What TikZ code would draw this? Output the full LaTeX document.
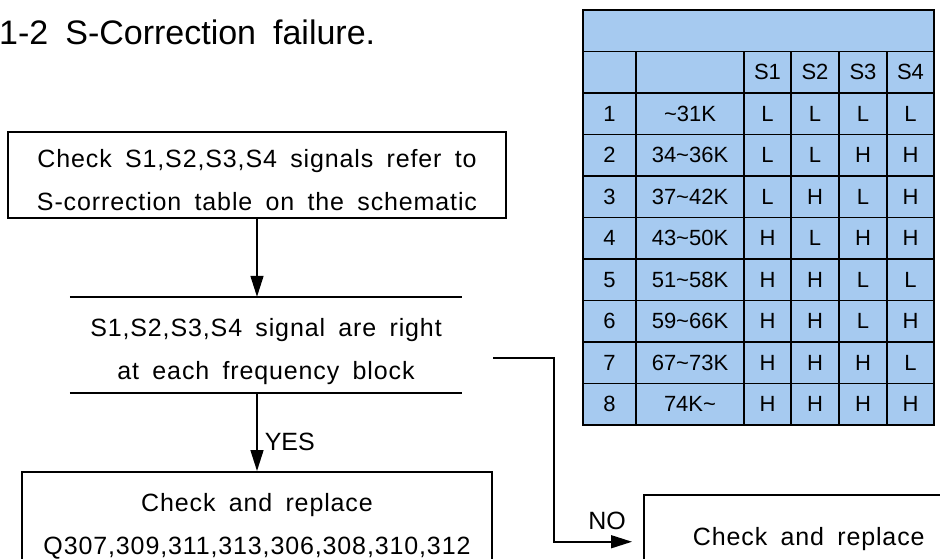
\documentclass[tikz,border=0pt]{standalone}
\usepackage{fontspec}
\setmainfont{Liberation Sans}
\newfontfamily\trackfont[LetterSpace=3.5,WordSpace=1.7]{Liberation Sans}
\newfontfamily\titlefont[WordSpace=1.8]{Liberation Sans}
\usetikzlibrary{arrows.meta,positioning}

\definecolor{tablue}{RGB}{166,202,240}

\tikzset{
  flow/.style={font=\trackfont\fontsize{25}{43}\selectfont, align=center, inner sep=0pt},
  stepbox/.style={flow, draw, line width=1.5pt},
  lab/.style={font=\fontsize{25}{30}\selectfont, inner sep=0pt},
  arr/.style={line width=1.5pt, -{Triangle[length=21pt,width=13pt]}},
  cell/.style={font=\fontsize{22}{24}\selectfont, anchor=center, inner sep=0pt},
}

\begin{document}
\begin{tikzpicture}[x=1pt,y=-1pt]
        \clip (0,0) rectangle (940,559);
        \fill[white] (0,0) rectangle (940,559);
        \node[anchor=base west, inner sep=0pt, font=\titlefont\fontsize{34}{40}\selectfont] (title) at (-1,45) {1-2 S-Correction failure.};
        % flow chart
        \node[stepbox, minimum width=498pt, minimum height=86pt] (check) at (257,175)
            {\rule{0pt}{29pt}Check S1,S2,S3,S4 signals refer to\\S-correction table on the schematic};
        \node[flow, minimum width=392pt, minimum height=96pt] (decide) at (266,345)
            {\rule{0pt}{32pt}S1,S2,S3,S4 signal are right\\at each frequency block};
        \draw[line width=1.5pt] (decide.north west) -- (decide.north east);
        \draw[line width=1.5pt] (decide.south west) -- (decide.south east);
        \node[stepbox, minimum width=470pt, minimum height=105pt, anchor=north] (fix) at (257,471)
            {\rule{0pt}{23pt}Check and replace\\Q307,309,311,313,306,308,310,312};
        \node[stepbox, minimum width=330pt, minimum height=88pt, anchor=north west] (redo) at (643,494)
            {Check and replace};
        \draw[arr] (check.south) -- (check.south |- decide.north);
        \draw[arr] (decide.south -| fix.north) -- (fix.north)
            node[lab, pos=0.63, right=7pt] (yes) {YES};
        \coordinate (nostart) at (493,358);
        \coordinate (noturn) at (554,358);
        \draw[arr] (nostart) -- (noturn) |- ([xshift=-11pt,yshift=-3pt]redo.west)
            node[lab, pos=0.84, above=11pt] (no) {NO};
        % S-correction table
        \fill[tablue] (583,10) rectangle (934,425);
        \draw[line width=1.5pt] (583,10) rectangle (934,425);
        \foreach \y in {51.5,93,134.5,176,217.5,259,300.5,342,383.5}
            \draw[line width=1.5pt] (583,\y) -- (934,\y);
        \foreach \x in {636,744,791,839,887}
            \draw[line width=1.5pt] (\x,51.5) -- (\x,425);
        \node[cell] (hs1) at (767.5,72.25) {S1};
        \node[cell] (hs2) at (815,72.25) {S2};
        \node[cell] (hs3) at (863,72.25) {S3};
        \node[cell] (hs4) at (910.5,72.25) {S4};
        \foreach \n/\f/\a/\b/\c/\d in {
            1/{\textasciitilde 31K}/L/L/L/L,
            2/{34\textasciitilde 36K}/L/L/H/H,
            3/{37\textasciitilde 42K}/L/H/L/H,
            4/{43\textasciitilde 50K}/H/L/H/H,
            5/{51\textasciitilde 58K}/H/H/L/L,
            6/{59\textasciitilde 66K}/H/H/L/H,
            7/{67\textasciitilde 73K}/H/H/H/L,
            8/{74K\textasciitilde}/H/H/H/H} {
            \pgfmathsetmacro\ry{72.25+41.5*\n}
            \node[cell] (num\n) at (609.5,\ry) {\n};
            \node[cell] (freq\n) at (690,\ry) {\f};
            \node[cell] (sa\n) at (767.5,\ry) {\a};
            \node[cell] (sb\n) at (815,\ry) {\b};
            \node[cell] (sc\n) at (863,\ry) {\c};
            \node[cell] (sd\n) at (910.5,\ry) {\d};
        }
\end{tikzpicture}
\end{document}
